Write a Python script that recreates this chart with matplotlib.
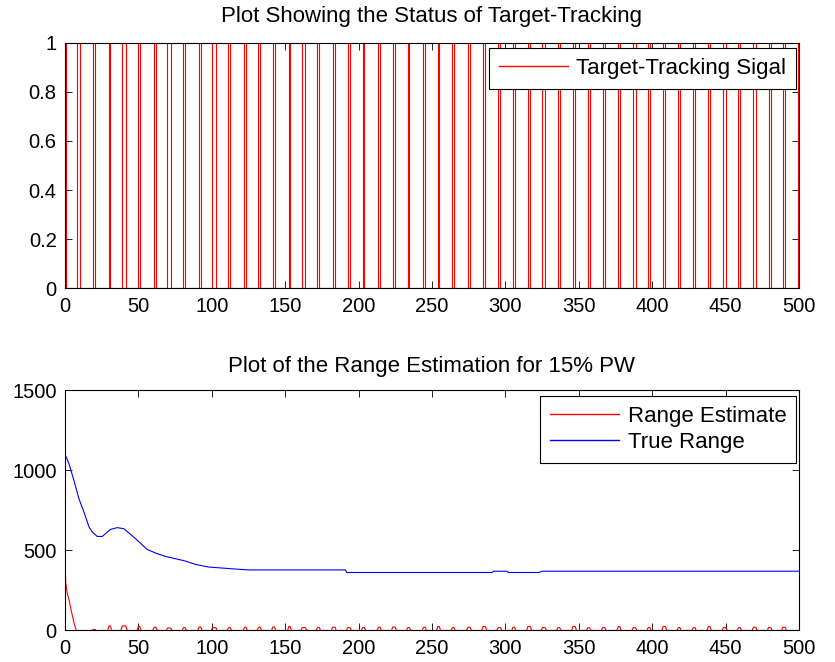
import numpy as np
import matplotlib.pyplot as plt

plt.rcParams['font.family'] = ['Liberation Sans', 'DejaVu Sans']
plt.rcParams['font.size'] = 15

# tracking pulses: rise / fall times (samples)
pulse_on = [0, 8.4, 19.3, 30, 39, 50, 60.7, 69.8, 80.7, 91.4, 100.5, 111.4, 122.3,
            131.8, 141.6, 152.5, 161.6, 172, 182.3, 192.6, 202.8, 213.5, 223.3,
            233.5, 244.2, 254, 264, 274.4, 284.8, 295, 305.2, 315.4, 325.3, 335.8,
            346, 356.2, 366.2, 376.9, 387.1, 397.3, 407.5, 417.8, 428, 438.3,
            448.5, 458.8, 469, 479.3, 489, 499.7]
pulse_off = [0.4, 10, 20.5, 31, 41.5, 51, 62, 72, 81.8, 92.5, 102.8, 112.6, 123.4,
             133, 142.8, 153.4, 163.8, 173.3, 184, 194.2, 204, 214.7, 224.9,
             234.7, 245.4, 255, 265, 276, 286.4, 296.7, 306.3, 317, 327, 337,
             347.6, 357.4, 367.8, 378, 388.7, 398.5, 409.1, 418.9, 429.2, 439.4,
             450.2, 460, 470.7, 480.9, 490.6, 500]

# range estimate: initial decay, then small blips at each pulse
est_x0 = [0, 0.5, 1.6, 2.7, 3.9, 5.0, 6.1, 7.7]
est_y0 = [440, 300, 229, 195, 140, 94, 50, 0]
blip_h = [6, 28, 28, 25, 20, 15, 18, 22, 18, 18, 20, 20, 22, 25, 18, 18, 20, 18,
          18, 20, 22, 18, 20, 25, 18, 20, 25, 18, 20, 25, 18, 18, 25, 18, 18,
          25, 18, 18, 25, 18, 18, 25, 18, 18, 20, 18, 20]

# true range
true_x = [0, 2.7, 6.1, 9.5, 12.9, 16.4, 18.6, 22, 25.4, 31, 35.6, 40.2, 48.1, 56,
          61.8, 68.6, 75.3, 82.2, 89, 98, 114, 125, 191, 192, 291, 292, 301, 302,
          323, 325, 500]
true_y = [1100, 1042, 937, 823, 740, 646, 615, 587, 587, 631, 642, 635, 573, 506,
          483, 462, 448, 433, 412, 396, 385, 378, 378, 362, 362, 370, 370, 362,
          362, 370, 370]

# build step signal
sx, sy = [], []
for s, e in zip(pulse_on, pulse_off):
    sx += [s, s, e, e]
    sy += [0, 1, 1, 0]

ex, ey = list(est_x0), list(est_y0)
for s, e, h in zip(pulse_on[2:], pulse_off[2:], blip_h):
    ex += [s - 0.9, s, e, e + 0.9]
    ey += [0, h, h, 0]
ex.append(500)
ey.append(0)

fig = plt.figure(figsize=(8.35, 6.62), dpi=100)
ax1 = fig.add_axes([0.0778, 0.5645, 0.879, 0.371])
ax2 = fig.add_axes([0.0778, 0.0476, 0.879, 0.363])

ax1.plot(sx, sy, color='red', lw=0.8, label='Target-Tracking Sigal')
ax1.set_xlim(0, 500)
ax1.set_ylim(0, 1)
ax1.set_xticks(np.arange(0, 501, 50))
ax1.set_yticks([0, 0.2, 0.4, 0.6, 0.8, 1])
ax1.set_yticklabels(['0', '0.2', '0.4', '0.6', '0.8', '1'])
ax1.set_title('Plot Showing the Status of Target-Tracking', fontsize=16, pad=15)

ax2.plot(ex, ey, color='red', lw=0.8, label='Range Estimate')
ax2.plot(true_x, true_y, color='blue', lw=0.8, label='True Range')
ax2.set_xlim(0, 500)
ax2.set_ylim(0, 1500)
ax2.set_xticks(np.arange(0, 501, 50))
ax2.set_yticks([0, 500, 1000, 1500])
ax2.set_title('Plot of the Range Estimation for 15% PW', fontsize=16, pad=13)

for ax, hpx in ((ax1, 245.6), (ax2, 240.5)):
    ax.tick_params(direction='in', top=True, right=True, length=5, width=0.6,
                   labelsize=14.5, pad=6)
    for sp in ax.spines.values():
        sp.set_linewidth(0.8)
    leg = ax.legend(loc='upper right', bbox_to_anchor=(1 - 2.5 / 734, 1 - 5.5 / hpx),
                    fancybox=False, edgecolor='black', framealpha=1, fontsize=16,
                    handlelength=3.1, handletextpad=0.4, borderaxespad=0,
                    borderpad=0.45, labelspacing=0.22)
    leg.get_frame().set_linewidth(0.8)
    for ln in leg.get_lines():
        ln.set_linewidth(1.0)

fig.savefig('out.png', dpi=100)
